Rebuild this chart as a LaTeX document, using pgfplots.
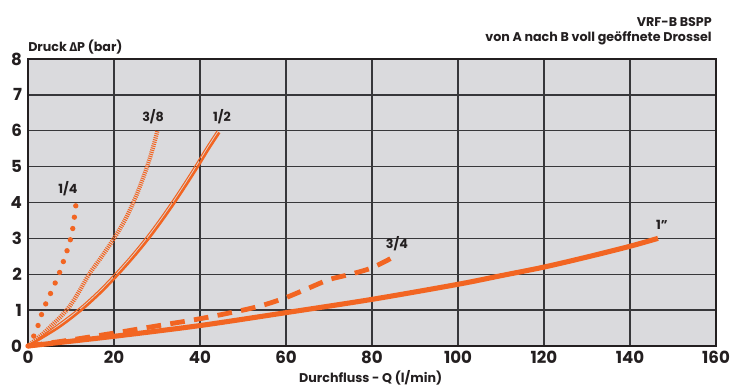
\documentclass[border=0pt]{standalone}
\usepackage{pgfplots}
\pgfplotsset{compat=1.18}
\usepackage{fontspec}
\setmainfont{Poppins}
\newfontfamily\fira{Fira Sans}
\definecolor{orng}{RGB}{242,101,34}
\definecolor{bgray}{RGB}{218,218,221}
\definecolor{ggray}{RGB}{55,55,58}
\definecolor{txt}{RGB}{35,31,32}
\begin{document}
\begin{tikzpicture}
\begin{axis}[
  at={(0,0)}, anchor=south west,
  scale only axis, width=516pt, height=215.25pt,
  xmin=0, xmax=160, ymin=0, ymax=8,
  xtick={0,20,...,160}, ytick={0,1,...,8},
  grid=major,
  major grid style={ggray, line width=1pt},
  axis line style={txt, line width=2pt},
  axis background/.style={fill=bgray},
  major tick length=0pt,
  tick label style={font=\fontsize{12.5}{13}\selectfont\bfseries, text=txt},
  /pgf/number format/assume math mode=true,
  xticklabel style={yshift=-0.5pt},
  yticklabel style={xshift=-1pt},
  clip=false,
]
% 1/4 dotted
\addplot[orng, line width=4pt, line cap=round, dash pattern=on 0pt off 8.6pt, smooth] coordinates {
(0,0) (1,0.2) (2,0.45) (3.5,1) (5,1.4) (6.3,1.75) (7.2,2) (8.5,2.45) (9.6,2.85) (10.3,3.2) (10.8,3.6) (11.2,4)};
% 3/8 hatched
\addplot[orng, line width=3.2pt, dash pattern=on 0.8pt off 0.8pt, smooth] coordinates {
(0,0) (4,0.4) (9,1) (11.8,1.5) (14.2,2) (17.2,2.5) (20,3) (22.5,3.5) (24.5,4) (26.2,4.5) (27.7,5) (29,5.5) (30.1,6)};
% 1/2 double line (thin)
\addplot[orng, line width=0.8pt, smooth] coordinates {
(0,0) (6.4,0.55) (11.9,1.05) (16.5,1.55) (20.5,2.05) (24.2,2.55) (27.6,3.05) (30.7,3.55) (33.6,4.05) (36.35,4.55) (39.0,5.05) (41.55,5.55) (44.0,6)};
% 1/2 double line (thick)
\addplot[orng, line width=1.9pt, smooth] coordinates {
(0,0) (6.9,0.5) (12.4,1) (17.0,1.5) (21.0,2) (24.7,2.5) (28.1,3) (31.2,3.5) (34.1,4) (36.85,4.5) (39.5,5) (42.05,5.5) (44.5,5.95)};
% 3/4 dashed
\addplot[orng, line width=3.6pt, dash pattern=on 11pt off 7pt, smooth] coordinates {
(0,0) (10,0.17) (20,0.36) (30,0.56) (40,0.76) (50,1.0) (55,1.15) (60,1.35) (65,1.6) (70,1.85) (75,2.0) (80,2.18) (85,2.48)};
% 1" solid
\addplot[orng, line width=3.8pt, smooth] coordinates {
(0,0) (20,0.27) (40,0.57) (60,0.93) (80,1.3) (100,1.72) (110,1.96) (120,2.2) (130,2.48) (140,2.78) (146.5,3)};
\node[font=\fontsize{9.5}{10}\selectfont\bfseries, text=txt] at (axis cs:9.3,4.38) {1/4};
\node[font=\fontsize{9.5}{10}\selectfont\bfseries, text=txt] at (axis cs:29.1,6.38) {3/8};
\node[font=\fontsize{9.5}{10}\selectfont\bfseries, text=txt] at (axis cs:45.1,6.38) {1/2};
\node[font=\fontsize{9.5}{10}\selectfont\bfseries, text=txt] at (axis cs:85.8,2.85) {3/4};
\node[font=\fontsize{9.5}{10}\selectfont\bfseries, text=txt] at (axis cs:147.4,3.37) {1\symbol{34}};
\end{axis}
\node[anchor=base east, font=\fontsize{9.5}{10}\selectfont\bfseries, text=txt, inner sep=0pt] at (513pt,239.25pt) {VRF-B BSPP};
\node[anchor=base east, font=\fontsize{9.5}{10}\selectfont\bfseries, text=txt, inner sep=0pt] at (513pt,228pt) {von A nach B voll geöffnete Drossel};
\node[anchor=base west, font=\fontsize{9.5}{10}\selectfont\bfseries, text=txt, inner sep=0pt] at (0pt,220.5pt) {Druck {\fira\bfseries Δ}P (bar)};
\node[anchor=base, font=\fontsize{9.5}{10}\selectfont\bfseries, text=txt, inner sep=0pt] at (257pt,-27.75pt) {Durchfluss - Q (l/min)};
\path[use as bounding box] (-21pt,-29.25pt) rectangle (534.75pt,259.5pt);
\end{tikzpicture}
\end{document}
